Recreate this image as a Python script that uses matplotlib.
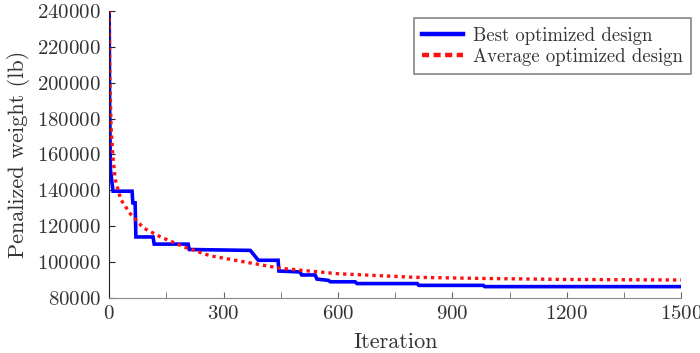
import matplotlib
matplotlib.use("Agg")
import matplotlib.pyplot as plt
from matplotlib.ticker import MultipleLocator
from matplotlib.lines import Line2D

plt.rcParams['font.family'] = ['cmr10', 'DejaVu Serif']
plt.rcParams['axes.formatter.use_mathtext'] = True

# Best optimized design (step-like)
best_iter = [0, 1, 3, 10, 60, 62, 68, 70, 115, 118, 207, 210, 370, 391, 443, 445,
             500, 505, 540, 545, 575, 580, 645, 650, 808, 812, 981, 985, 1500]
best_val = [240000, 190000, 152000, 139500, 139500, 133000, 133000, 114000, 114000,
            110000, 110000, 107000, 106500, 101000, 101000, 95000, 94500, 92800,
            92800, 90500, 89800, 89000, 89000, 88000, 88000, 87000, 87000, 86300, 86300]

# Average optimized design
avg_iter = [0, 2, 5, 10, 16, 30, 55, 90, 135, 195, 265, 370, 450, 600, 800, 1000, 1200, 1500]
avg_val = [240000, 200000, 175000, 158000, 146000, 135000, 127000, 119000, 114000,
           108500, 103500, 99500, 96500, 93500, 91500, 90800, 90300, 90000]

labels = ['Best optimized design', 'Average optimized design']

fig = plt.figure(figsize=(7.0, 3.53), dpi=100)
ax = fig.add_axes([0.156, 0.156, 0.817, 0.813])

ax.plot(best_iter, best_val, color='#0000ff', lw=2.6, solid_joinstyle='miter')
ax.plot(avg_iter, avg_val, color='#ff1010', lw=2.4, linestyle=(0, (1.0, 1.2)))

ax.set_xlim(0, 1500)
ax.set_ylim(80000, 240000)
ax.xaxis.set_major_locator(MultipleLocator(300))
ax.xaxis.set_minor_locator(MultipleLocator(150))
ax.yaxis.set_major_locator(MultipleLocator(20000))

for s in ['top', 'right']:
    ax.spines[s].set_visible(False)
ax.spines['left'].set_color('#222222')
ax.spines['bottom'].set_color('#888888')

ax.tick_params(axis='both', which='both', direction='in', length=4, labelsize=15,
               labelcolor='#333333')
ax.tick_params(axis='x', which='both', color='#666666', pad=5)
ax.tick_params(axis='y', which='both', color='#222222', pad=6)

ax.set_xlabel('Iteration', fontsize=16, color='#333333', labelpad=7)
ax.set_ylabel('Penalized weight (lb)', fontsize=16, color='#333333', labelpad=5)

handles = [Line2D([], [], color='#0000ff', lw=3.2),
           Line2D([], [], color='#ff1010', lw=3.2, linestyle=(0, (1.6, 1.0)))]
leg = ax.legend(handles, labels, loc='upper right', bbox_to_anchor=(1.0175, 0.975),
                fontsize=13.5, frameon=True, fancybox=False, edgecolor='#666666',
                borderpad=0.45, handlelength=2.2, labelspacing=0.18, handletextpad=0.5,
                borderaxespad=0.0)
for t in leg.get_texts():
    t.set_color('#333333')
leg.get_frame().set_linewidth(1.2)

fig.savefig('out.png', dpi=100)
